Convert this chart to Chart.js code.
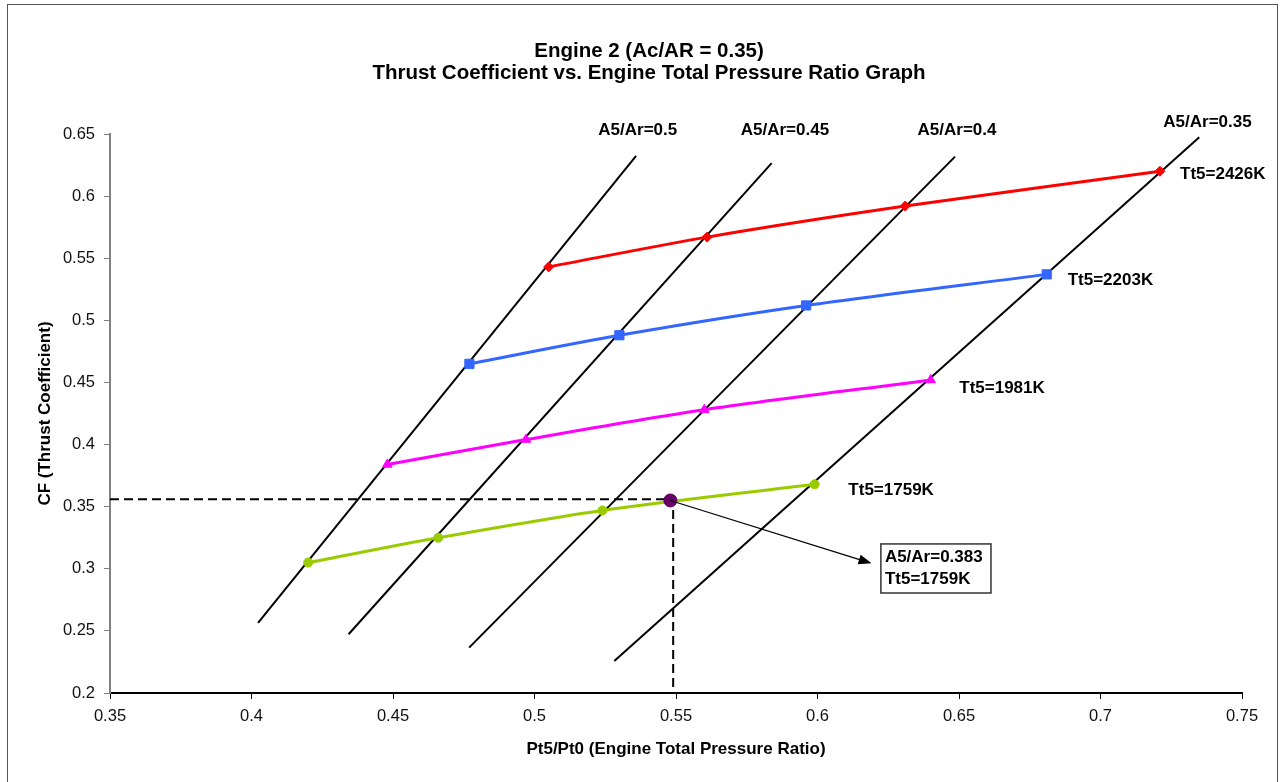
<!DOCTYPE html>
<html>
<head>
<meta charset="utf-8">
<title>Engine 2 Thrust Coefficient vs. Engine Total Pressure Ratio</title>
<script src="https://cdn.jsdelivr.net/npm/chart.js@4/dist/chart.umd.min.js"></script>
<style>
  html, body { margin: 0; padding: 0; background: #fff; }
  #wrap { position: relative; width: 1281px; height: 782px; overflow: hidden; }
  #cfChart { position: absolute; left: 0; top: 0; }
  #frame { position: absolute; left: 7px; top: 4px; width: 1271px; height: 820px;
           border: 1.5px solid #555; box-sizing: border-box; pointer-events: none; }
</style>
</head>
<body>
<div id="wrap">
  <canvas id="cfChart" width="1281" height="782"></canvas>
  <div id="frame"></div>
</div>
<script>
// --- data ---
const titleLines = ['Engine 2 (Ac/AR = 0.35)', 'Thrust Coefficient vs. Engine Total Pressure Ratio Graph'];
const xTitle = 'Pt5/Pt0 (Engine Total Pressure Ratio)';
const yTitle = 'CF (Thrust Coefficient)';

const xMin = 0.35, xMax = 0.75, xStep = 0.05;
const yMin = 0.2, yMax = 0.65, yStep = 0.05;

// constant Tt5 curves (Pt5/Pt0, CF)
const tt5Labels = ['Tt5=2426K', 'Tt5=2203K', 'Tt5=1981K', 'Tt5=1759K'];
const redX = [0.505, 0.561, 0.631, 0.721];
const redY = [0.543, 0.567, 0.592, 0.620];
const blueX = [0.477, 0.530, 0.596, 0.681];
const blueY = [0.465, 0.488, 0.512, 0.537];
const pinkX = [0.448, 0.497, 0.560, 0.640];
const pinkY = [0.384, 0.404, 0.428, 0.452];
const greenX = [0.420, 0.466, 0.524, 0.599];
const greenY = [0.305, 0.325, 0.347, 0.368];

// constant A5/Ar lines (end points)
const a5Labels = ['A5/Ar=0.5', 'A5/Ar=0.45', 'A5/Ar=0.4', 'A5/Ar=0.35'];
const a5X0 = [0.4023, 0.4343, 0.4769, 0.5282];
const a5Y0 = [0.2564, 0.2473, 0.2365, 0.2258];
const a5X1 = [0.5359, 0.5838, 0.6486, 0.7349];
const a5Y1 = [0.6324, 0.6265, 0.6318, 0.6474];

// operating point
const pickX = [0.548];
const pickY = [0.355];
const guideX = 0.549, guideY = 0.356;
const pickText = ['A5/Ar=0.383', 'Tt5=1759K'];

// label anchors (data units)
const tt5LabelX = [0.7281, 0.6884, 0.6501, 0.6109];
const tt5LabelY = [0.6179, 0.5325, 0.4453, 0.3634];
const a5LabelX = [0.5365, 0.5885, 0.6493, 0.7378];
const a5LabelY = [0.6533, 0.6533, 0.6533, 0.6592];
const boxX = [0.6224, 0.6613];
const boxY = [0.3200, 0.2805];
const arrowEnd = [0.6191, 0.3044];

const FONT = '"Liberation Sans", Arial, sans-serif';

function pts(xs, ys) {
  return xs.map((v, i) => ({ x: v, y: ys[i] }));
}

function curve(xs, ys, color, style, radius) {
  return {
    data: pts(xs, ys),
    showLine: true,
    borderColor: color,
    backgroundColor: color,
    borderWidth: 3,
    tension: 0.3,
    pointStyle: style,
    pointRadius: radius,
    pointBorderWidth: 1
  };
}

const datasets = [
  { data: pts(pickX, pickY), pointStyle: 'circle', pointRadius: 6.5,
    backgroundColor: '#660066', borderColor: '#660066', showLine: false },
  curve(redX, redY, '#FF0000', 'rectRot', 5),
  curve(blueX, blueY, '#3366FF', 'rect', 6.5),
  curve(pinkX, pinkY, '#FF00FF', 'triangle', 5.5),
  curve(greenX, greenY, '#99CC00', 'circle', 4.5),
  { data: [{ x: xMin, y: guideY }, { x: guideX, y: guideY }, { x: guideX, y: yMin }],
    showLine: true, borderColor: '#000', borderWidth: 2, borderDash: [9, 5],
    pointRadius: 0, tension: 0 }
];
a5X0.forEach((x0, i) => {
  datasets.push({
    data: [{ x: x0, y: a5Y0[i] }, { x: a5X1[i], y: a5Y1[i] }],
    showLine: true, borderColor: '#000', borderWidth: 2, pointRadius: 0, tension: 0
  });
});

const fmt = v => String(Number(v.toFixed(2)));

const textPlugin = {
  id: 'chartText',
  afterDatasetsDraw(chart) {
    const { ctx, scales: { x, y } } = chart;
    ctx.save();
    // arrow from operating point to box
    const sx = x.getPixelForValue(pickX[0]), sy = y.getPixelForValue(pickY[0]);
    const ex = x.getPixelForValue(arrowEnd[0]), ey = y.getPixelForValue(arrowEnd[1]);
    const ang = Math.atan2(ey - sy, ex - sx);
    ctx.strokeStyle = '#000';
    ctx.fillStyle = '#000';
    ctx.lineWidth = 1.2;
    ctx.beginPath();
    ctx.moveTo(sx, sy);
    ctx.lineTo(ex - 10 * Math.cos(ang), ey - 10 * Math.sin(ang));
    ctx.stroke();
    ctx.beginPath();
    ctx.moveTo(ex, ey);
    ctx.lineTo(ex - 13 * Math.cos(ang) + 5 * Math.sin(ang), ey - 13 * Math.sin(ang) - 5 * Math.cos(ang));
    ctx.lineTo(ex - 13 * Math.cos(ang) - 5 * Math.sin(ang), ey - 13 * Math.sin(ang) + 5 * Math.cos(ang));
    ctx.closePath();
    ctx.fill();

    // box with the operating point values
    const bx0 = x.getPixelForValue(boxX[0]), bx1 = x.getPixelForValue(boxX[1]);
    const by0 = y.getPixelForValue(boxY[0]), by1 = y.getPixelForValue(boxY[1]);
    ctx.fillStyle = '#fff';
    ctx.fillRect(bx0, by0, bx1 - bx0, by1 - by0);
    ctx.strokeStyle = '#333';
    ctx.lineWidth = 1.5;
    ctx.strokeRect(bx0, by0, bx1 - bx0, by1 - by0);
    ctx.fillStyle = '#000';
    ctx.font = `bold 17px ${FONT}`;
    ctx.textAlign = 'left';
    ctx.textBaseline = 'middle';
    ctx.fillText(pickText[0], bx0 + 4, by0 + 13);
    ctx.fillText(pickText[1], bx0 + 4, by0 + 35);
    ctx.restore();
  },
  afterDraw(chart) {
    const { ctx, chartArea, scales: { x, y } } = chart;
    ctx.save();
    ctx.fillStyle = '#000';

    ctx.font = `bold 20.5px ${FONT}`;
    ctx.textAlign = 'center';
    ctx.textBaseline = 'alphabetic';
    ctx.fillText(titleLines[0], 649, 57);
    ctx.fillText(titleLines[1], 649, 79);

    ctx.font = `bold 17px ${FONT}`;
    ctx.textBaseline = 'middle';
    ctx.fillText(xTitle, (chartArea.left + chartArea.right) / 2, 749);
    ctx.save();
    ctx.translate(45, (chartArea.top + chartArea.bottom) / 2);
    ctx.rotate(-Math.PI / 2);
    ctx.fillText(yTitle, 0, 0);
    ctx.restore();

    a5Labels.forEach((t, i) => {
      ctx.fillText(t, x.getPixelForValue(a5LabelX[i]), y.getPixelForValue(a5LabelY[i]));
    });
    ctx.textAlign = 'left';
    tt5Labels.forEach((t, i) => {
      ctx.fillText(t, x.getPixelForValue(tt5LabelX[i]), y.getPixelForValue(tt5LabelY[i]));
    });
    ctx.restore();
  }
};

new Chart(document.getElementById('cfChart'), {
  type: 'scatter',
  data: { datasets },
  options: {
    responsive: false,
    animation: false,
    events: [],
    layout: { padding: { left: 0, top: 134, right: 39, bottom: 29 } },
    plugins: { legend: { display: false }, tooltip: { enabled: false } },
    scales: {
      x: {
        type: 'linear',
        min: xMin, max: xMax,
        afterFit: s => { s.height = 60; },
        border: { display: true, color: '#000', width: 2 },
        grid: { drawOnChartArea: false, drawTicks: true, tickLength: 6, color: '#000' },
        ticks: { stepSize: xStep, padding: 8, color: '#111',
                 font: { family: FONT, size: 16.5 }, callback: fmt, maxRotation: 0 }
      },
      y: {
        type: 'linear',
        min: yMin, max: yMax,
        afterFit: s => { s.width = 110; },
        border: { display: true, color: '#808080', width: 2 },
        grid: { drawOnChartArea: false, drawTicks: true, tickLength: 6, color: '#808080' },
        ticks: { stepSize: yStep, padding: 9, color: '#111',
                 font: { family: FONT, size: 16.5 }, callback: fmt }
      }
    }
  },
  plugins: [textPlugin]
});
</script>
</body>
</html>
